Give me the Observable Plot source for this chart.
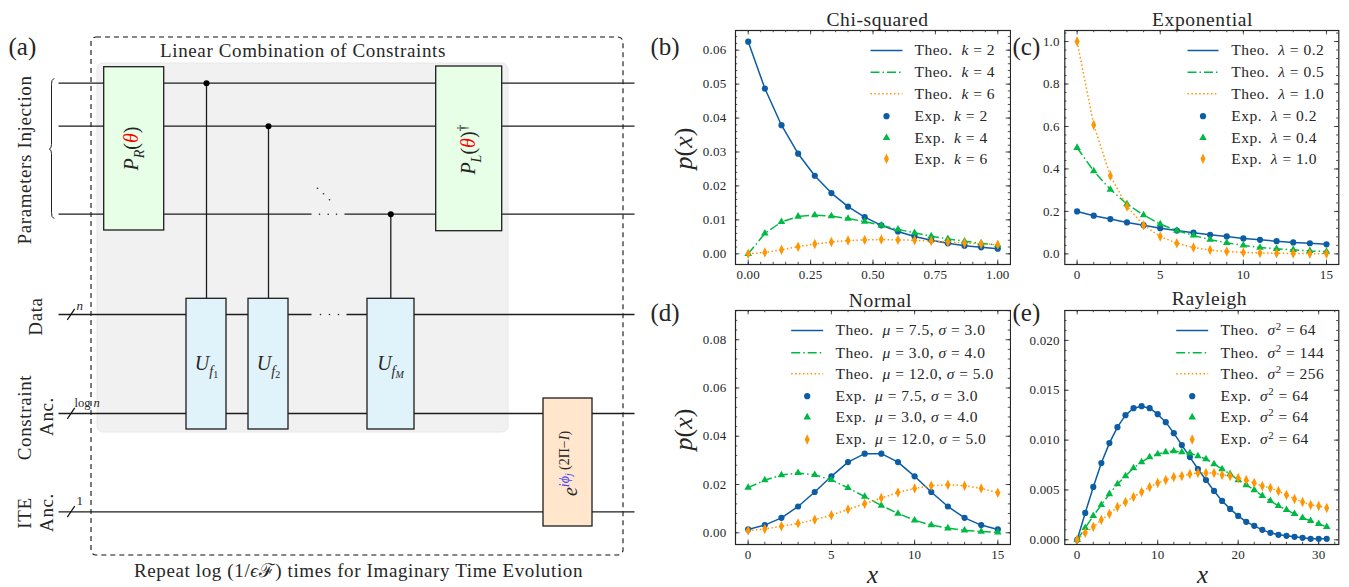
<!DOCTYPE html>
<html><head><meta charset="utf-8">
<script src="https://cdn.jsdelivr.net/npm/d3@7"></script>
<script src="https://cdn.jsdelivr.net/npm/@observablehq/plot@0.6"></script>
<style>
html,body{margin:0;padding:0;background:#fff}
#page{position:relative;width:1349px;height:587px;overflow:hidden}
#page svg{position:absolute;max-width:none;background:transparent}
</style></head><body><div id="page"></div>
<script>
const FONT = '"Liberation Serif", serif';
const BLUE = "#0C5DA5", GREEN = "#00B945", ORANGE = "#FF9500";
const INK = "#262626";

// ---------- panel data ----------
const chiX = [0,1/15,2/15,3/15,4/15,5/15,6/15,7/15,8/15,9/15,10/15,11/15,12/15,13/15,14/15,1];
const chiK2 = [.0625,.0487,.0379,.0295,.0230,.0179,.0139,.0108,.0084,.0066,.0051,.0040,.0031,.0024,.0019,.0015];
const chiK4 = [0,.0060,.0094,.0110,.0114,.0111,.0104,.0095,.0084,.0072,.0062,.0052,.0044,.0037,.0031,.0026];
const chiK6 = [0,.0004,.0012,.0021,.0029,.0035,.0039,.0041,.0042,.0041,.0040,.0038,.0035,.0032,.0029,.0027];
const chiTheo = ["Theo.  {i|k} = 2","Theo.  {i|k} = 4","Theo.  {i|k} = 6"];
const chiExp = ["Exp.  {i|k} = 2","Exp.  {i|k} = 4","Exp.  {i|k} = 6"];

const x16 = [0,1,2,3,4,5,6,7,8,9,10,11,12,13,14,15];
const expL02 = [.2,.18,.164,.148,.135,.121,.11,.1,.09,.082,.073,.066,.06,.054,.05,.045];
const expL05 = [.5,.39,.303,.235,.183,.14,.11,.087,.067,.052,.04,.03,.024,.019,.014,.011];
const expL10 = [1,.607,.368,.223,.135,.082,.05,.03,.018,.011,.007,.004,.003,.002,.001,.001];
const expTheo = ["Theo.  {i|λ} = 0.2","Theo.  {i|λ} = 0.5","Theo.  {i|λ} = 1.0"];
const expExp = ["Exp.  {i|λ} = 0.2","Exp.  {i|λ} = 0.4","Exp.  {i|λ} = 1.0"];

const normA = [.0014,.0032,.0062,.0109,.0169,.0234,.0293,.0328,.0328,.0293,.0234,.0169,.0109,.0062,.0032,.0014];
const normB = [.0187,.0218,.0239,.0248,.0240,.0219,.0186,.0150,.0113,.0080,.0052,.0032,.0019,.0010,.0005,.0002];
const normC = [.0009,.0016,.0027,.0039,.0054,.0073,.0097,.0120,.0144,.0167,.0184,.0195,.0199,.0195,.0184,.0166];
const normTheo = ["Theo.  {i|μ} = 7.5, {i|σ} = 3.0","Theo.  {i|μ} = 3.0, {i|σ} = 4.0","Theo.  {i|μ} = 12.0, {i|σ} = 5.0"];
const normExp = ["Exp.  {i|μ} = 7.5, {i|σ} = 3.0","Exp.  {i|μ} = 3.0, {i|σ} = 4.0","Exp.  {i|μ} = 12.0, {i|σ} = 5.0"];

const x32 = [0,1,2,3,4,5,6,7,8,9,10,11,12,13,14,15,16,17,18,19,20,21,22,23,24,25,26,27,28,29,30,31];
const rayA = [0,.0027,.0053,.0077,.0097,.0113,.0125,.0132,.0134,.0132,.0126,.0118,.0107,.0095,.0083,.0071,.0060,.0049,.0039,.0031,.0024,.0018,.0014,.0010,.0007,.0005,.0004,.0003,.0002,.0001,.0001,.0001];
const rayB = [0,.0012,.0024,.0035,.0046,.0056,.0064,.0072,.0078,.0083,.0086,.0088,.0089,.0088,.0087,.0084,.0081,.0076,.0071,.0066,.0060,.0055,.0050,.0044,.0039,.0034,.0030,.0026,.0022,.0019,.0016,.0013];
const rayC = [0,.0007,.0013,.0020,.0026,.0033,.0038,.0043,.0048,.0053,.0057,.0060,.0063,.0064,.0066,.0067,.0067,.0067,.0065,.0064,.0062,.0060,.0057,.0054,.0052,.0049,.0045,.0041,.0038,.0035,.0034,.0032];
const rayTheo = ["Theo.  {i|σ}{u|2} = 64","Theo.  {i|σ}{u|2} = 144","Theo.  {i|σ}{u|2} = 256"];
const rayExp = ["Exp.  {i|σ}{u|2} = 64","Exp.  {i|σ}{u|2} = 64","Exp.  {i|σ}{u|2} = 64"];

// ---------- circuit schematic, in diagram units ----------
const wireSegments = [[58,634,82.7],[58,634,125.7],[58,311,213.7],[344,634,213.7],[58,311,314],[346,634,314],[58,634,413],[58,634,511.3]];
const controls = [[206,82.7],[268,125.7],[390.3,213.7]];
const slashRows = [314,413,511.3];
const greenBoxes = [[103.7,163.7,66.7,230],[435.7,501.7,66,230.7]];
const blueBoxes = [[186,226],[248,288],[367,414]];
const orangeBox = [[543,592,398,526]];
const ellipsisDots = [[317,187.7],[323,193.3],[329,199.3],[319,213.7],[327.7,213.7],[336,213.7],[320,314],[329,314],[338,314]];
const brace = [[53.5,78],[51.5,80],[51,84],[51,144],[50.5,147],[48.7,148.5],[50.5,150],[51,153],[51,212],[51.5,216],[53.5,218]];
const circuitLabels = [
  {x:8,y:46,t:"(a)",size:25,anchor:"start"},
  {x:302.5,y:50,t:"Linear Combination of Constraints",size:19},
  {x:358,y:570,t:"Repeat log (1/{i|ϵ}ℱ) times for Imaginary Time Evolution",size:19},
  {x:24,y:159.5,t:"Parameters Injection",size:19,rotate:-90},
  {x:35,y:316,t:"Data",size:19,rotate:-90},
  {x:24.6,y:417,t:"Constraint",size:19,rotate:-90},
  {x:46,y:416,t:"Anc.",size:19,rotate:-90},
  {x:24.6,y:512.5,t:"ITE",size:19,rotate:-90},
  {x:46,y:512,t:"Anc.",size:19,rotate:-90},
  {x:131,y:148,t:"{i|P}{si|R}({Ri|θ})",size:20,rotate:-90},
  {x:468,y:149,t:"{i|P}{si|L}({Ri|θ}){u|†}",size:20,rotate:-90},
  {x:206,y:363,t:"{i|U}{si|f}{t|1}",size:20},
  {x:268,y:363,t:"{i|U}{si|f}{t|2}",size:20},
  {x:390,y:363,t:"{i|U}{si|f}{ti|M}",size:20},
  {x:570,y:463,t:"{i|e}{uBi|iϕ}{Bsup|j}{u| (2Π−}{ui|I}{u|)}",size:20,rotate:-90},
  {x:76,y:305,t:"{i|n}",size:13,anchor:"start"},
  {x:74,y:402,t:"log{i| n}",size:12.5,anchor:"start"},
  {x:76,y:500,t:"1",size:13,anchor:"start"}
];

// ---------- helpers ----------
const page = document.getElementById("page");
function place(svg, L, T){ svg.style.left = L+"px"; svg.style.top = T+"px"; page.appendChild(svg); rich(svg); }

const STY = {
  i:{italic:1}, s:{fs:.7,off:.28}, si:{italic:1,fs:.7,off:.28}, t:{fs:.5,off:.42}, ti:{italic:1,fs:.5,off:.42},
  u:{fs:.7,off:-.38}, ui:{italic:1,fs:.7,off:-.38}, uBi:{italic:1,fs:.7,off:-.38,fill:"#4040ff"},
  Bsup:{italic:1,fs:.48,off:-.26,fill:"#4040ff"}, Ri:{italic:1,fill:"#ff0000"}
};
function rich(svg){
  svg.querySelectorAll("text").forEach(el=>{
    const src = el.textContent;
    const base = parseFloat(getComputedStyle(el).fontSize);
    // the reference's face runs wider than the installed serif
    const spacing = base>=24 ? 0 : base>=18.5 ? .62 : base>=15 ? .5 : base>=12.8 ? .22 : 0;
    if(spacing && !src.startsWith("{i|P") && !src.startsWith("{i|U") && !src.startsWith("{i|e")) el.style.letterSpacing = spacing+"px";
    if(!src.includes("{")) return;
    el.textContent = "";
    const re = /\{([A-Za-z]+)\|([^}]*)\}/g;
    let last = 0, m, cur = 0;
    const add = (txt, st)=>{
      if(!txt) return;
      const t = document.createElementNS("http://www.w3.org/2000/svg","tspan");
      t.textContent = txt;
      const off = (st.off||0)*base;
      if(off!==cur){ t.setAttribute("dy",(off-cur).toFixed(2)); cur=off; }
      if(st.italic) t.setAttribute("font-style","italic");
      if(st.fs) t.setAttribute("font-size",(st.fs*base).toFixed(2));
      if(st.fill) t.setAttribute("fill",st.fill);
      el.appendChild(t);
    };
    while((m=re.exec(src))){ add(src.slice(last,m.index),{}); add(m[2],STY[m[1]]||{}); last=re.lastIndex; }
    add(src.slice(last),{});
  });
}
const symbolThinDiamond = {draw(ctx,size){const r=Math.sqrt(size/Math.PI);const h=r*1.45,w=r*.7;ctx.moveTo(0,-h);ctx.lineTo(w,0);ctx.lineTo(0,h);ctx.lineTo(-w,0);ctx.closePath();}};
const STYLES = [
  {color:BLUE,dash:null,sym:"circle",r:3.1},
  {color:GREEN,dash:"9 3 1.5 3",sym:"triangle",r:2.8},
  {color:ORANGE,dash:"1.5 2.4",sym:symbolThinDiamond,r:3.6}
];
function seq(a,b,st){const o=[];const n=Math.round((b-a)/st);for(let i=0;i<=n;i++)o.push(+(a+i*st).toFixed(6));return o;}

function panel(o){
  const [L,T,R,B]=o.cell, [fL,fT,fR,fB]=o.frame, [x0,x1]=o.xDomain, [y0,y1]=o.yDomain;
  const X=d3.scaleLinear([fL,fR],[x0,x1]), Y=d3.scaleLinear([fB,fT],[y0,y1]);
  const dx=(x1-x0)/(fR-fL), dy=(y1-y0)/(fB-fT);
  const tickRules=(vals,len)=>[
    Plot.ruleX(vals,{x:d=>d,y1:()=>y0,y2:()=>y0+len*dy,stroke:INK,strokeWidth:.8}),
    Plot.ruleX(vals,{x:d=>d,y1:()=>y1,y2:()=>y1-len*dy,stroke:INK,strokeWidth:.8})];
  const tickRulesY=(vals,len)=>[
    Plot.ruleY(vals,{y:d=>d,x1:()=>x0,x2:()=>x0+len*dx,stroke:INK,strokeWidth:.8}),
    Plot.ruleY(vals,{y:d=>d,x1:()=>x1,x2:()=>x1-len*dx,stroke:INK,strokeWidth:.8})];
  const xMaj=seq(o.xTicks[0],o.xTicks[1],o.xTicks[2]), xMin=seq(o.xMinor[0],o.xMinor[1],o.xMinor[2]);
  const yMaj=seq(o.yTicks[0],o.yTicks[1],o.yTicks[2]), yMin=seq(o.yMinor[0],o.yMinor[1],o.yMinor[2]);
  const marks=[];
  marks.push(...tickRules(xMin,2.2),...tickRules(xMaj,4.4),...tickRulesY(yMin,2.2),...tickRulesY(yMaj,4.4));
  marks.push(Plot.axisX(xMaj,{anchor:"bottom",tickSize:0,tickPadding:o.xPad,tickFormat:o.xFmt,fontSize:13,fill:INK,label:null}));
  marks.push(Plot.axisY(yMaj,{anchor:"left",tickSize:0,tickPadding:o.yPad,tickFormat:o.yFmt,fontSize:13,fill:INK,label:null}));
  const lineStyle=s=>({stroke:s.color,strokeWidth:1.5,strokeLinecap:"butt",strokeLinejoin:"round",strokeDasharray:s.dash||undefined});
  // theory lines, then measured points
  o.series.forEach((ys,k)=>{
    const d=ys.map((y,i)=>({x:o.xs[i],y}));
    marks.push(Plot.line(d,{x:"x",y:"y",...lineStyle(STYLES[k])}));
  });
  o.series.forEach((ys,k)=>{
    const d=ys.map((y,i)=>({x:o.xs[i],y}));
    const s=STYLES[k];
    marks.push(Plot.dot(d,{x:"x",y:"y",fill:s.color,symbol:s.sym,r:s.r}));
  });
  // legend
  const leg=o.legend;
  o.theo.forEach((t,k)=>{
    const s=STYLES[k], py=leg.rows[k];
    marks.push(Plot.line([{x:X(leg.x1),y:Y(py)},{x:X(leg.x2),y:Y(py)}],{x:"x",y:"y",...lineStyle(s)}));
    marks.push(Plot.text([{x:X(leg.xt),y:Y(py),t}],{x:"x",y:"y",text:"t",textAnchor:"start",fontSize:15.5,fill:INK}));
  });
  o.exp.forEach((t,k)=>{
    const s=STYLES[k], py=leg.rows[k+3];
    marks.push(Plot.dot([{x:X((leg.x1+leg.x2)/2),y:Y(py)}],{x:"x",y:"y",fill:s.color,symbol:s.sym,r:s.r}));
    marks.push(Plot.text([{x:X(leg.xt),y:Y(py),t}],{x:"x",y:"y",text:"t",textAnchor:"start",fontSize:15.5,fill:INK}));
  });
  // frame, title, tag, axis names
  marks.push(Plot.frame({stroke:INK,strokeWidth:1.2}));
  marks.push(Plot.text([{x:X(o.titleAt[0]),y:Y(o.titleAt[1]),t:o.title}],{x:"x",y:"y",text:"t",fontSize:19.5,fill:INK}));
  marks.push(Plot.text([{x:X(o.tagAt[0]),y:Y(o.tagAt[1]),t:o.tag}],{x:"x",y:"y",text:"t",textAnchor:"start",fontSize:25,fill:INK}));
  if(o.ylabelAt) marks.push(Plot.text([{x:X(o.ylabelAt[0]),y:Y(o.ylabelAt[1]),t:"{i|p}({i|x})"}],{x:"x",y:"y",text:"t",rotate:-90,fontSize:26,fill:INK}));
  if(o.xlabelAt) marks.push(Plot.text([{x:X(o.xlabelAt[0]),y:Y(o.xlabelAt[1]),t:"{i|x}"}],{x:"x",y:"y",text:"t",fontSize:25,fill:INK}));
  const svg=Plot.plot({
    width:R-L,height:B-T,marginLeft:fL-L,marginRight:R-fR,marginTop:fT-T,marginBottom:B-fB,
    x:{domain:[x0,x1],axis:null},y:{domain:[y0,y1],axis:null},
    style:{fontFamily:FONT,background:"transparent"},
    marks
  });
  place(svg,L,T);
}

// ---------- circuit ----------
(function circuit(){
  const wires=wireSegments.map(([a,b,y])=>({a,b,y}));
  const marks=[
    Plot.rect([{a:97,b:508,t:63,u:432}],{x1:"a",x2:"b",y1:"t",y2:"u",fill:"#f1f1f1",stroke:"#e8e8e8",strokeWidth:1,rx:6}),
    Plot.rect([{a:91,b:623,t:37,u:555}],{x1:"a",x2:"b",y1:"t",y2:"u",fill:"none",stroke:"#111",strokeWidth:1.1,strokeDasharray:"5 4",rx:5}),
    Plot.link(wires,{x1:"a",x2:"b",y1:"y",y2:"y",stroke:"#1d1d1d",strokeWidth:1.3}),
    Plot.link(slashRows,{x1:()=>66.8,x2:()=>74.2,y1:d=>d+5.3,y2:d=>d-5.7,stroke:"#111",strokeWidth:1.2}),
    Plot.line(brace,{x:"0",y:"1",stroke:"#222",strokeWidth:1}),
    Plot.link(controls,{x1:"0",x2:"0",y1:"1",y2:()=>298.3,stroke:"#1d1d1d",strokeWidth:1.3}),
    Plot.dot(controls,{x:"0",y:"1",r:3,fill:"#000"}),
    Plot.rect(greenBoxes,{x1:"0",x2:"1",y1:"2",y2:"3",fill:"#e6ffe6",stroke:"#1d1d1d",strokeWidth:1.3}),
    Plot.rect(blueBoxes,{x1:"0",x2:"1",y1:()=>298.3,y2:()=>429,fill:"#e1f3fa",stroke:"#1d1d1d",strokeWidth:1.3}),
    Plot.rect(orangeBox,{x1:"0",x2:"1",y1:"2",y2:"3",fill:"#ffe6cc",stroke:"#1d1d1d",strokeWidth:1.3}),
    Plot.dot(ellipsisDots,{x:"0",y:"1",r:.8,fill:"#222"}),
    ...circuitLabels.map(l=>Plot.text([l],{x:"x",y:"y",text:"t",fontSize:l.size,rotate:l.rotate||0,textAnchor:l.anchor||"middle",fill:INK}))
  ];
  const svg=Plot.plot({width:645,height:587,margin:0,
    x:{domain:[0,645],range:[0,645],axis:null},y:{domain:[0,587],range:[0,587],axis:null},
    style:{fontFamily:FONT,background:"transparent"},marks});
  place(svg,0,0);
})();

// ---------- panels ----------
const f2=d3.format(".2f"), f1=d3.format(".1f"), f3=d3.format(".3f"), f0=d3.format("d");
panel({cell:[645,0,1011,287],frame:[735,30,1010,264],xDomain:[-.051,1.051],yDomain:[-.00315,.0658],
  xTicks:[0,1,.25],xMinor:[0,1,.05],yTicks:[0,.06,.01],yMinor:[0,.064,.002],xFmt:f2,yFmt:f2,xPad:5.5,yPad:9,
  xs:chiX,series:[chiK2,chiK4,chiK6],theo:chiTheo,exp:chiExp,title:"Chi-squared",titleAt:[877,19],tag:"(b)",tagAt:[650,46],
  ylabelAt:[683,148],legend:{x1:870,x2:902,xt:914,rows:[50,71.7,93.3,115.7,137.3,158.3]}});
panel({cell:[1011,0,1349,287],frame:[1064.3,30,1338.3,264],xDomain:[-.74,15.74],yDomain:[-.05,1.052],
  xTicks:[0,15,5],xMinor:[0,15,1],yTicks:[0,1,.2],yMinor:[0,1.04,.04],xFmt:f0,yFmt:f1,xPad:5.5,yPad:5,
  xs:x16,series:[expL02,expL05,expL10],theo:expTheo,exp:expExp,title:"Exponential",titleAt:[1202,19],tag:"(c)",tagAt:[1012,46],
  legend:{x1:1187,x2:1218,xt:1230.7,rows:[50,71.7,93.3,115.7,137.3,158.3]}});
panel({cell:[645,287,1011,587],frame:[735,310,1010,544],xDomain:[-.76,15.76],yDomain:[-.00485,.0921],
  xTicks:[0,15,5],xMinor:[0,15,1],yTicks:[0,.08,.02],yMinor:[0,.092,.004],xFmt:f0,yFmt:f2,xPad:5.5,yPad:9,
  xs:x16,series:[normA,normB,normC],theo:normTheo,exp:normExp,title:"Normal",titleAt:[880,300],tag:"(d)",tagAt:[650,312],
  ylabelAt:[683,429],xlabelAt:[872,574],legend:{x1:790.7,x2:822.7,xt:835,rows:[330,352.3,373.3,395.7,416.7,439]}});
panel({cell:[1011,287,1349,587],frame:[1064.3,310,1338.3,544],xDomain:[-1.54,32.5],yDomain:[-.00047,.023],
  xTicks:[0,30,10],xMinor:[0,32,2],yTicks:[0,.02,.005],yMinor:[0,.023,.001],xFmt:f0,yFmt:f3,xPad:5.5,yPad:5,
  xs:x32,series:[rayA,rayB,rayC],theo:rayTheo,exp:rayExp,title:"Rayleigh",titleAt:[1209,298],tag:"(e)",tagAt:[1012,312],
  xlabelAt:[1202,574],legend:{x1:1175.7,x2:1207.7,xt:1220,rows:[330,352.3,373.3,395.7,416.7,439]}});
</script></body></html>
